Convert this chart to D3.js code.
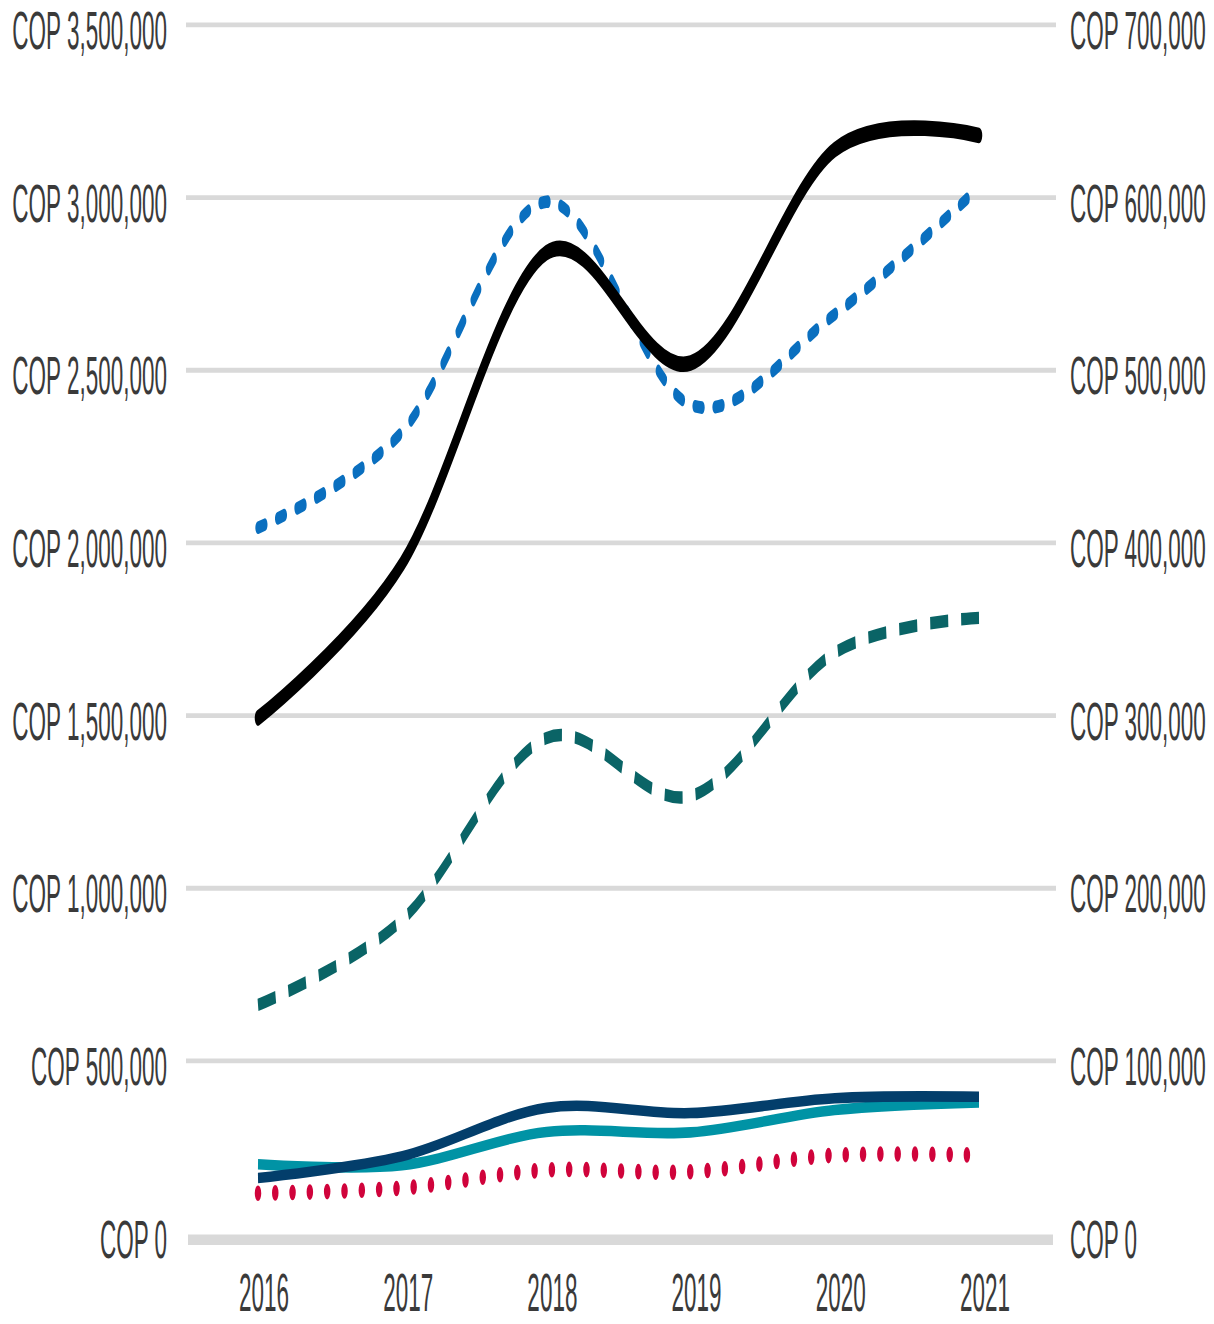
<!DOCTYPE html>
<html>
<head>
<meta charset="utf-8">
<script src="https://cdn.jsdelivr.net/npm/d3@7"></script>
<style>
  html, body { margin: 0; padding: 0; background: #fff; }
  svg { display: block; }
</style>
</head>
<body>
<div id="chart"></div>
<script>
// data (COP)
const years = [2016, 2017, 2018, 2019, 2020, 2021];
const blackSeries = [1493000, 1940000, 2840000, 2521000, 3139000, 3180000];
const blueDotted = [2044000, 2322000, 2988000, 2400000, 2662000, 3029000];
const tealDashed = [662000, 908000, 1435000, 1267000, 1682000, 1783000];
const navySeries = [161000, 224000, 364000, 349000, 392000, 396000];
const tealSeries = [201000, 198000, 294000, 293000, 358000, 380000];
const redDotted = [117000, 132000, 184000, 179000, 227000, 227000];
const leftTicks = [0, 500000, 1000000, 1500000, 2000000, 2500000, 3000000, 3500000];
const rightTicks = [0, 100000, 200000, 300000, 400000, 500000, 600000, 700000];

// the picture is stretched vertically, so draw in a short box and stretch it
const W = 1214, H = 552;
const svg = d3.select("#chart")
  .append("svg")
  .attr("width", W)
  .attr("height", 1324)
  .attr("viewBox", `0 0 ${W} ${H}`)
  .attr("preserveAspectRatio", "none");

const x = d3.scaleLinear().domain([2016, 2021]).range([258, 979]);
const y = d3.scaleLinear().domain([0, 3500000]).range([514.3, 10.4]);
const yRight = d3.scaleLinear().domain([0, 700000]).range([514.3, 10.4]);

const fmt = v => "COP " + d3.format(",")(v);
const font = "'Liberation Sans', Arial, sans-serif";

// gridlines
svg.append("g")
  .selectAll("line")
  .data(leftTicks.filter(d => d > 0))
  .enter()
  .append("line")
  .attr("x1", 186).attr("x2", 1056)
  .attr("y1", d => y(d)).attr("y2", d => y(d))
  .attr("stroke", "#d9d9d9")
  .attr("stroke-width", 2);

svg.append("line")
  .attr("x1", 188).attr("x2", 1053)
  .attr("y1", y(0) + 2.6).attr("y2", y(0) + 2.6)
  .attr("stroke", "#d9d9d9")
  .attr("stroke-width", 4.4);

// left axis labels
svg.append("g")
  .selectAll("text")
  .data(leftTicks)
  .enter()
  .append("text")
  .attr("x", 167)
  .attr("y", d => y(d) + 2)
  .attr("dy", "0.36em")
  .attr("text-anchor", "end")
  .attr("font-family", font)
  .attr("font-size", 22.5)
  .attr("fill", "#3a3a3a")
  .text(fmt);

// right axis labels
svg.append("g")
  .selectAll("text")
  .data(rightTicks)
  .enter()
  .append("text")
  .attr("x", 1070)
  .attr("y", d => yRight(d) + 2)
  .attr("dy", "0.36em")
  .attr("text-anchor", "start")
  .attr("font-family", font)
  .attr("font-size", 22.5)
  .attr("fill", "#3a3a3a")
  .text(fmt);

// year labels
svg.append("g")
  .selectAll("text")
  .data(years)
  .enter()
  .append("text")
  .attr("x", d => x(d) + 6)
  .attr("y", 546.5)
  .attr("text-anchor", "middle")
  .attr("font-family", font)
  .attr("font-size", 22.5)
  .attr("fill", "#3a3a3a")
  .text(d => d);

const line = d3.line()
  .x((d, i) => x(years[i]))
  .y(d => y(d))
  .curve(d3.curveCardinal);

const series = [
  {values: redDotted, color: "#d0033b", width: 6.5, dash: "0,17.3", cap: "round"},
  {values: tealSeries, color: "#0093a5", width: 4.4, dash: null, cap: "butt"},
  {values: navySeries, color: "#033e6b", width: 4.4, dash: null, cap: "butt"},
  {values: tealDashed, color: "#0a6466", width: 5.2, dash: "18,13", cap: "butt"},
  {values: blueDotted, color: "#0a6fbf", width: 5.3, dash: "7,13", cap: "round"},
  {values: blackSeries, color: "#000000", width: 6.5, dash: null, cap: "round"}
];

svg.append("g")
  .selectAll("path")
  .data(series)
  .enter()
  .append("path")
  .attr("d", d => line(d.values))
  .attr("fill", "none")
  .attr("stroke", d => d.color)
  .attr("stroke-width", d => d.width)
  .attr("stroke-linecap", d => d.cap)
  .attr("stroke-dasharray", d => d.dash);
</script>
</body>
</html>
